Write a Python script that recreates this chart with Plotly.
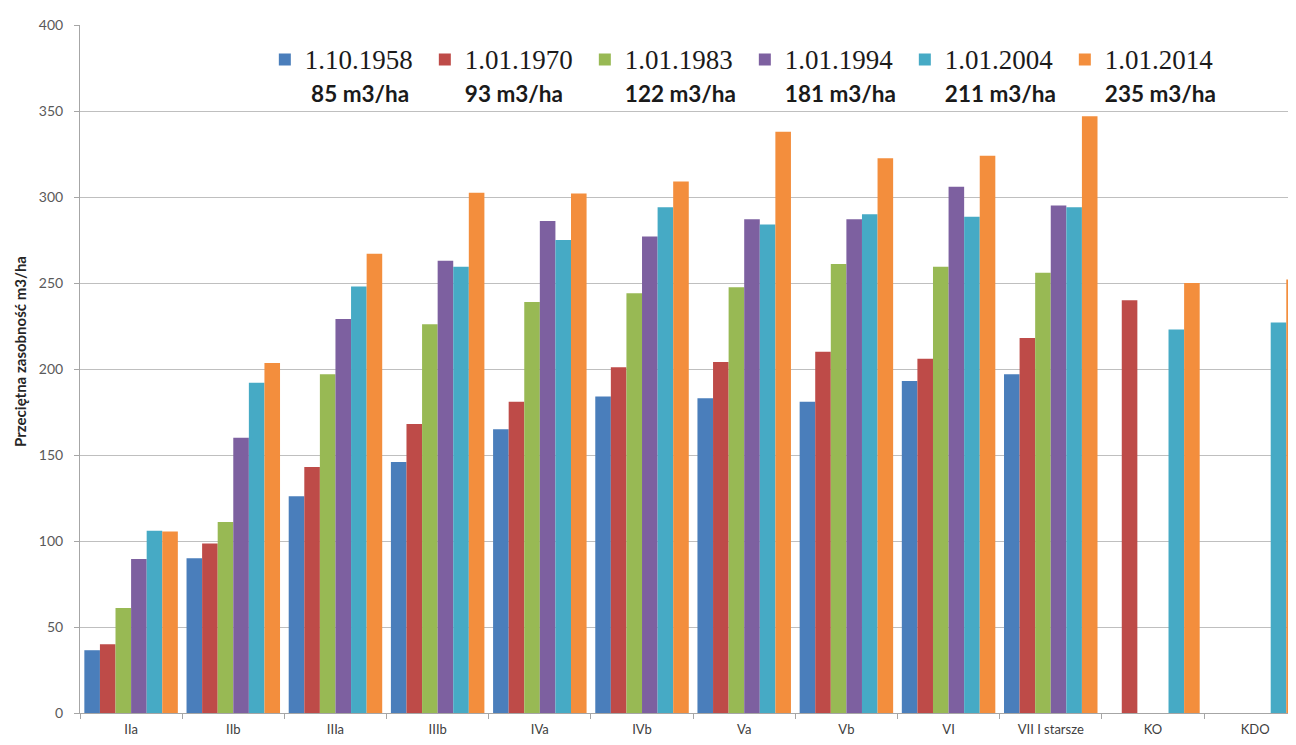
import plotly.graph_objects as go

categories = ["IIa", "IIb", "IIIa", "IIIb", "IVa", "IVb", "Va", "Vb", "VI",
              "VII I starsze", "KO", "KDO"]

dates = ["1.10.1958", "1.01.1970", "1.01.1983", "1.01.1994", "1.01.2004", "1.01.2014"]
averages = ["85 m3/ha", "93 m3/ha", "122 m3/ha", "181 m3/ha", "211 m3/ha", "235 m3/ha"]
indents = ["\u00a0", "", "", "", "", ""]

s1958 = [36.5, 90, 126, 146, 165, 184, 183, 181, 193, 197, None, None]
s1970 = [40, 98.5, 143, 168, 181, 201, 204, 210, 206, 218, 240, None]
s1983 = [61, 111, 197, 226, 239, 244, 247.5, 261, 259.5, 256, None, None]
s1994 = [89.5, 160, 229, 263, 286, 277, 287, 287, 306, 295, None, None]
s2004 = [106, 192, 248, 259.5, 275, 294, 284, 290, 288.5, 294, 223, 227]
s2014 = [105.5, 203.5, 267, 302.5, 302, 309, 338, 322.5, 324, 347, 250, 252]

series = [s1958, s1970, s1983, s1994, s2004, s2014]
colors = ["#4A7EBB", "#BE4B48", "#98B954", "#7D60A0", "#46AAC5", "#F38E3D"]

fig = go.Figure()
for name, avg, ind, vals, col in zip(dates, averages, indents, series, colors):
    label = ("<span style='font-size:27px'>" + name + "</span><br>" + ind
             + "<span style='font-family:Lato;font-weight:bold;font-size:22.5px'>"
             + avg + "</span>")
    fig.add_trace(go.Bar(x=categories, y=vals, name=label, marker_color=col,
                         marker_line_width=0))

# page has an 8px offset; margins compensate so the plot sits at x 80..1296, y 19..713
fig.update_layout(
    width=1296, height=745,
    margin=dict(l=72, r=8, t=11, b=40),
    paper_bgcolor="white", plot_bgcolor="white",
    barmode="group", bargap=0.085, bargroupgap=0,
    font=dict(family="Lato", color="#404040"),
    legend=dict(
        orientation="h", x=0.152, xanchor="left", y=0.983, yanchor="top",
        bgcolor="rgba(0,0,0,0)", valign="top",
        entrywidthmode="pixels", entrywidth=115,
        font=dict(family="Liberation Serif", size=25, color="#1a1a1a"),
        itemclick=False,
    ),
    xaxis=dict(
        type="category", range=[-0.5, 11.4],
        showline=True, linecolor="#a6a6a6", linewidth=1,
        ticks="outside", ticklen=5, tickcolor="#a6a6a6", tickson="boundaries",
        ticklabelstandoff=4,
        tickfont=dict(family="Lato", size=13, color="#404040"),
        showgrid=False,
    ),
    yaxis=dict(
        range=[0, 400], dtick=50, tick0=0,
        showline=True, linecolor="#a6a6a6", linewidth=1,
        ticks="outside", ticklen=5, tickcolor="#a6a6a6",
        ticklabelstandoff=8,
        gridcolor="#bfbfbf", gridwidth=1,
        tickfont=dict(family="Lato", size=14, color="#595959"),
        zeroline=False,
    ),
    annotations=[dict(
        text="Przeciętna zasobność m3/ha", textangle=-90,
        xref="paper", yref="paper", x=-0.0495, y=0.526,
        xanchor="center", yanchor="middle", showarrow=False,
        font=dict(family="Lato", size=15, color="#262626", weight="bold"),
    )],
)

fig.write_html("out.html")
